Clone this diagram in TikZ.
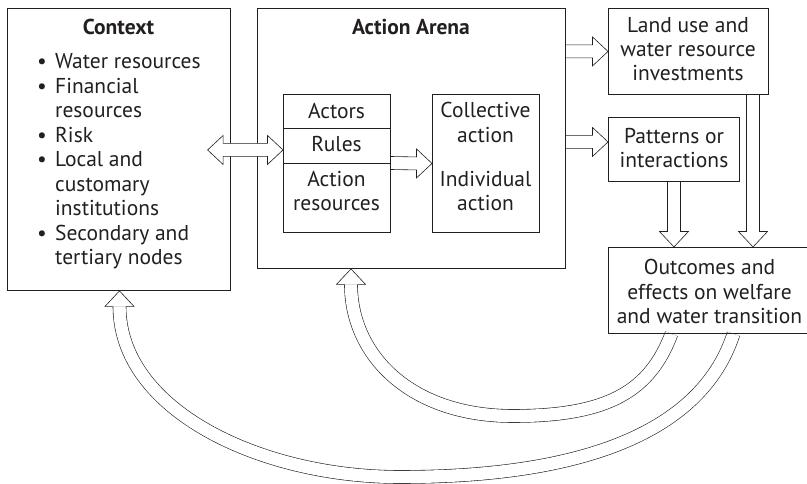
\documentclass[tikz,border=0pt]{standalone}
\usepackage{fontspec}
\setmainfont{PT Sans}
\usetikzlibrary{calc,backgrounds}
\definecolor{ink}{HTML}{231F20}
\newcommand{\fhw}{6.5}
\newcommand{\fHW}{14.5}
\newcommand{\fhl}{15.5}
\newcommand{\cbul}{\makebox[18pt][l]{\textbullet}}
\newcommand{\cind}{\hspace*{18pt}}
\newcommand{\mlines}[1]{\begin{tabular}[t]{@{}c@{}}#1\end{tabular}}
% rightward fat arrow: #1 start, #2 tip
\newcommand{\fatR}[2]{\draw[fatarrow] ($(#1)+(0,-\fhw)$) -- ($(#2)+(-\fhl,-\fhw)$) -- ($(#2)+(-\fhl,-\fHW)$) -- (#2) -- ($(#2)+(-\fhl,\fHW)$) -- ($(#2)+(-\fhl,\fhw)$) -- ($(#1)+(0,\fhw)$);}
% downward fat arrow (y axis points down)
\newcommand{\fatD}[2]{\draw[fatarrow] ($(#1)+(-\fhw,0)$) -- ($(#2)+(-\fhw,-\fhl)$) -- ($(#2)+(-\fHW,-\fhl)$) -- (#2) -- ($(#2)+(\fHW,-\fhl)$) -- ($(#2)+(\fhw,-\fhl)$) -- ($(#1)+(\fhw,0)$);}
% double-headed fat arrow: #1 left tip, #2 right tip
\newcommand{\fatLR}[2]{\draw[fatarrow] (#1) -- ($(#1)+(\fhl,-\fHW)$) -- ($(#1)+(\fhl,-\fhw)$) -- ($(#2)+(-\fhl,-\fhw)$) -- ($(#2)+(-\fhl,-\fHW)$) -- (#2) -- ($(#2)+(-\fhl,\fHW)$) -- ($(#2)+(-\fhl,\fhw)$) -- ($(#1)+(\fhl,\fhw)$) -- ($(#1)+(\fhl,\fHW)$) -- cycle;}
% upward head at tip #1
\newcommand{\headU}[1]{\draw[fatarrow] ($(#1)+(-\fhw,\fhl)$) -- ($(#1)+(-\fHW,\fhl)$) -- (#1) -- ($(#1)+(\fHW,\fhl)$) -- ($(#1)+(\fhw,\fhl)$);}
\tikzset{
  box/.style={draw=ink, line width=0.9pt, inner sep=0pt, anchor=north west},
  txt/.style={inner sep=0pt, anchor=base, text=ink},
  fatarrow/.style={draw=ink, line width=0.6pt, fill=white, line join=miter},
  fatcurve/.style={draw=ink, line width=0.6pt, double=white, double distance=12.4pt}
}
\begin{document}
\begin{tikzpicture}[x=1pt, y=-1pt, every node/.style={font=\fontsize{21.5}{24.3}\selectfont}]
\useasboundingbox (0,0) rectangle (807,484);
% boxes
\node[box, minimum width=223pt, minimum height=282pt] (context) at (7,8) {};
\node[box, minimum width=308pt, minimum height=260pt] (arena) at (257,8) {};
\node[box, minimum width=107pt, minimum height=34pt] (actors) at (283,94) {};
\node[box, minimum width=107pt, minimum height=35pt] (rules) at (283,128) {};
\node[box, minimum width=107pt, minimum height=69pt] (actres) at (283,163) {};
\node[box, minimum width=107pt, minimum height=138pt] (collective) at (432,94) {};
\node[box, minimum width=160pt, minimum height=86pt] (landuse) at (608,8) {};
\node[box, minimum width=131pt, minimum height=64pt] (patterns) at (608,117) {};
\node[box, minimum width=203pt, minimum height=86pt] (outcomes) at (608,247) {};
% texts
\node[txt] (ctxtitle) at (118.5,35) {\textbf{Context}};
\node[txt, anchor=base west, font=\fontsize{21.5}{24.5}\selectfont] (ctxlist) at (37,69) {\begin{tabular}[t]{@{}l@{}}\cbul Water resources\\ \cbul Financial\\ \cind resources\\ \cbul Risk\\ \cbul Local and\\ \cind customary\\ \cind institutions\\ \cbul Secondary and\\ \cind tertiary nodes\end{tabular}};
\node[txt] (arenatitle) at (411,35) {\textbf{Action Arena}};
\node[txt] (actorst) at (336.5,118.3) {Actors};
\node[txt] (rulest) at (336.5,151.7) {Rules};
\node[txt] (actrest) at (336.5,186.7) {\mlines{Action\\resources}};
\node[txt] (collt) at (485.5,118) {\mlines{Collective\\action}};
\node[txt] (indt) at (485.5,186.7) {\mlines{Individual\\action}};
\node[txt] (landuset) at (688,32.3) {\mlines{Land use and\\water resource\\investments}};
\node[txt] (patternst) at (674,143.3) {\mlines{Patterns or\\interactions}};
\node[txt] (outcomest) at (709.5,275) {\mlines{Outcomes and\\effects on welfare\\and water transition}};
% connectors
\coordinate (luS) at (arena.east |- landuse.west);
\coordinate (paT) at ($(patterns.west)+(0,-7.5)$);
\coordinate (paS) at (arena.east |- paT);
\coordinate (poT) at (patterns.south |- outcomes.north);
\coordinate (luB) at ($(landuse.south west)+(145,0)$);
\coordinate (luT) at (luB |- outcomes.north);
\coordinate (daR) at ($(rules.west)+(0,4)$);
\coordinate (daL0) at (context.east |- daR);
\coordinate (daL) at ($(daL0)+(-23.3,0)$);
\coordinate (c1s) at ($(outcomes.south west)+(63.5,0)$);
\coordinate (c1t) at ($(arena.south west)+(94,0)$);
\coordinate (c1b) at ($(c1t)+(0,\fhl)$);
\coordinate (c2s) at ($(outcomes.south west)+(125.5,0)$);
\coordinate (c2t) at ($(context.south west)+(112.5,0)$);
\coordinate (c2b) at ($(c2t)+(0,\fhl)$);
\begin{scope}[on background layer]
\fill[white] (0,0) rectangle (807,484);
\draw[fatcurve] (c1s) .. controls (650,390) and (610,416) .. (513,416) .. controls (410,416) and (351,355) .. (c1b);
\headU{c1t}
\draw[fatcurve] (c2s) .. controls (712,400) and (640,477) .. (400,477) .. controls (260,477) and (119.5,410) .. (c2b);
\headU{c2t}
\fatR{luS}{landuse.west}
\fatR{paS}{paT}
\fatR{actres.north east}{collective.west}
\fatD{patterns.south}{poT}
\fatD{luB}{luT}
\end{scope}
\fatLR{daL}{daR}
\end{tikzpicture}
\end{document}
